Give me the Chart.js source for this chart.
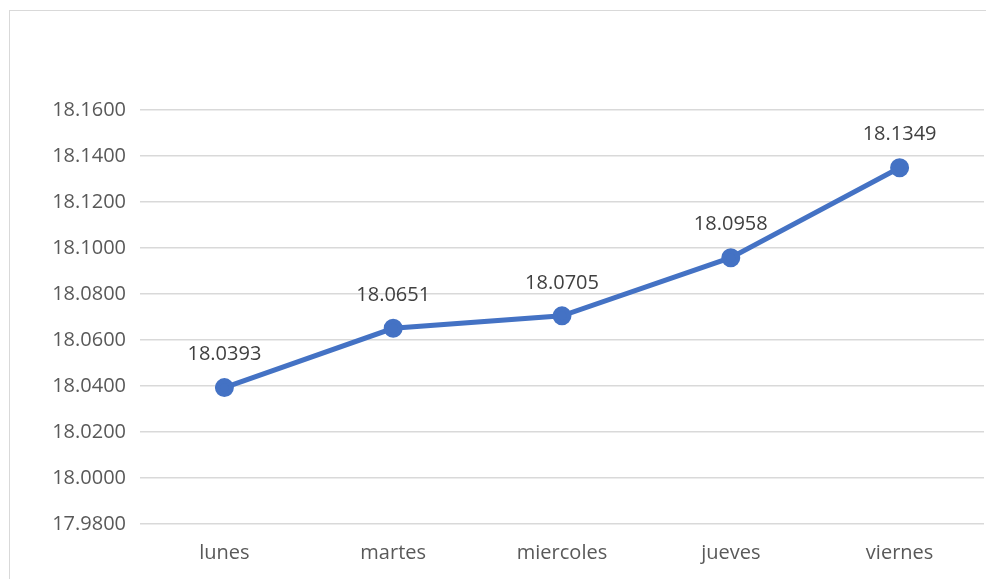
<!DOCTYPE html>
<html>
<head>
<meta charset="utf-8">
<script src="https://cdn.jsdelivr.net/npm/chart.js@4"></script>
<style>
  html, body { margin: 0; padding: 0; background: #fff; overflow: hidden; }
  #wrap { position: relative; width: 986px; height: 579px; overflow: hidden; }
  #frame { position: absolute; left: 9px; top: 10px; width: 990px; height: 600px; border: 1px solid #d9d9d9; box-sizing: border-box; }
  canvas { position: absolute; left: 0; top: 0; }
</style>
</head>
<body>
<div id="wrap">
  <div id="frame"></div>
  <canvas id="lineChart" width="996" height="579"></canvas>
</div>
<script>
const days = ['lunes', 'martes', 'miercoles', 'jueves', 'viernes'];
const rates = [18.0393, 18.0651, 18.0705, 18.0958, 18.1349];
const yTicks = [17.98, 18.00, 18.02, 18.04, 18.06, 18.08, 18.10, 18.12, 18.14, 18.16];

const FONT = '"Open Sans", sans-serif';

// labels above each point, like excel data labels
const pointLabels = {
    id: 'pointLabels',
    afterDatasetsDraw(chart) {
        const ctx = chart.ctx;
        const meta = chart.getDatasetMeta(0);
        ctx.save();
        ctx.font = '20px ' + FONT;
        ctx.fillStyle = '#404040';
        ctx.textAlign = 'center';
        ctx.textBaseline = 'middle';
        meta.data.forEach((pt, i) => {
            ctx.fillText(rates[i].toFixed(4), pt.x, pt.y - 33);
        });
        ctx.restore();
    }
};

const ctx = document.getElementById('lineChart').getContext('2d');
const lineChart = new Chart(ctx, {
    type: 'line',
    data: {
        labels: days,
        datasets: [{
            data: rates,
            borderColor: '#4472C4',
            backgroundColor: '#4472C4',
            borderWidth: 5,
            pointRadius: 7,
            pointHoverRadius: 7,
            tension: 0
        }]
    },
    options: {
        responsive: false,
        animation: false,
        layout: { padding: { top: 110, right: 2, bottom: 0, left: 0 } },
        plugins: {
            legend: { display: false },
            tooltip: { enabled: false }
        },
        scales: {
            x: {
                offset: true,
                grid: { display: false, drawTicks: false },
                border: { display: false },
                ticks: { color: '#595959', font: { family: FONT, size: 20 }, padding: 17 },
                afterFit: s => { s.height = 55; }
            },
            y: {
                min: 17.98,
                max: 18.16,
                afterBuildTicks: s => { s.ticks = yTicks.map(v => ({ value: v })); },
                afterFit: s => { s.width = 140; },
                grid: { color: '#d9d9d9', lineWidth: 1.5, drawTicks: false },
                border: { display: false },
                ticks: {
                    color: '#595959',
                    font: { family: FONT, size: 20 },
                    padding: 14,
                    callback: v => Number(v).toFixed(4)
                }
            }
        }
    },
    plugins: [pointLabels]
});
</script>
</body>
</html>
